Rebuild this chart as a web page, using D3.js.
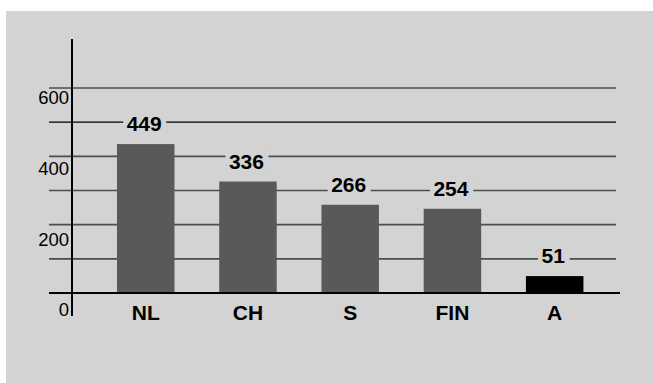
<!DOCTYPE html>
<html>
<head>
<meta charset="utf-8">
<script src="https://cdn.jsdelivr.net/npm/d3@7"></script>
<style>
  html, body { margin: 0; padding: 0; background: #ffffff; }
  svg { display: block; }
  text { font-family: "Liberation Sans", Arial, sans-serif; }
</style>
</head>
<body>
<div id="chart"></div>
<script>
// ---- data ----
const categories = ["NL", "CH", "S", "FIN", "A"];
const values = [449, 336, 266, 254, 51];
const tickLabels = [0, 200, 400, 600];
const gridValues = [100, 200, 300, 400, 500, 600];

// ---- layout ----
const W = 653, H = 383;
const bg = "#d3d3d3";
const baseline = 293;

const svg = d3.select("#chart").append("svg")
  .attr("width", W).attr("height", H);

svg.append("rect")
  .attr("x", 6).attr("y", 11)
  .attr("width", W - 6).attr("height", H - 11)
  .attr("fill", bg);

const x = d3.scaleBand()
  .domain(categories)
  .range([94.6, 605.8])
  .paddingInner(0.4377)
  .paddingOuter(0.4377 / 2);

const yBar = d3.scaleLinear().domain([0, 600]).range([baseline, 94]);
const yGrid = d3.scaleLinear().domain([0, 600]).range([baseline, 88]);
const yLabel = d3.scaleLinear().domain([0, 600]).range([310, 98]);

// gridlines
svg.append("g").selectAll("line")
  .data(gridValues).join("line")
  .attr("x1", 49).attr("x2", 616)
  .attr("y1", d => yGrid(d)).attr("y2", d => yGrid(d))
  .attr("stroke", d => d === 500 ? "#000" : "#4d4d4d")
  .attr("stroke-width", d => d === 500 ? 1.3 : 1.7);

// bars
svg.append("g").selectAll("rect")
  .data(values).join("rect")
  .attr("x", (d, i) => x(categories[i]))
  .attr("width", x.bandwidth())
  .attr("y", d => yBar(d))
  .attr("height", d => yBar(0) - yBar(d))
  .attr("fill", (d, i) => categories[i] === "A" ? "#000" : "#595959");

// baseline
svg.append("line")
  .attr("x1", 49).attr("x2", 620)
  .attr("y1", yBar(0)).attr("y2", yBar(0))
  .attr("stroke", "#000").attr("stroke-width", 2);

// y axis line
svg.append("line")
  .attr("x1", 72).attr("x2", 72)
  .attr("y1", 39).attr("y2", 316)
  .attr("stroke", "#000").attr("stroke-width", 2);

// tick labels
svg.append("g").selectAll("text")
  .data(tickLabels).join("text")
  .attr("x", 69)
  .attr("y", d => yLabel(d))
  .attr("dy", "0.35em")
  .attr("text-anchor", "end")
  .attr("font-size", "18.5px")
  .attr("fill", "#000")
  .text(d => d);

// value labels with knockout background
const vl = svg.append("g").selectAll("g")
  .data(values).join("g");
const vt = vl.append("text")
  .attr("x", (d, i) => x(categories[i]) + x.bandwidth() / 2 - 1.5)
  .attr("y", d => yBar(d) - 20)
  .attr("dy", "0.35em")
  .attr("text-anchor", "middle")
  .attr("font-size", "21px")
  .attr("font-weight", "bold")
  .attr("fill", "#000")
  .text(d => d);
vt.each(function () {
  const b = this.getBBox();
  d3.select(this.parentNode).insert("rect", "text")
    .attr("x", b.x - 3.5).attr("y", b.y)
    .attr("width", b.width + 8).attr("height", b.height)
    .attr("fill", bg);
});

// category labels
svg.append("g").selectAll("text")
  .data(categories).join("text")
  .attr("x", d => x(d) + x.bandwidth() / 2)
  .attr("y", 313)
  .attr("dy", "0.35em")
  .attr("text-anchor", "middle")
  .attr("font-size", "21px")
  .attr("font-weight", "bold")
  .attr("fill", "#000")
  .text(d => d);
</script>
</body>
</html>
